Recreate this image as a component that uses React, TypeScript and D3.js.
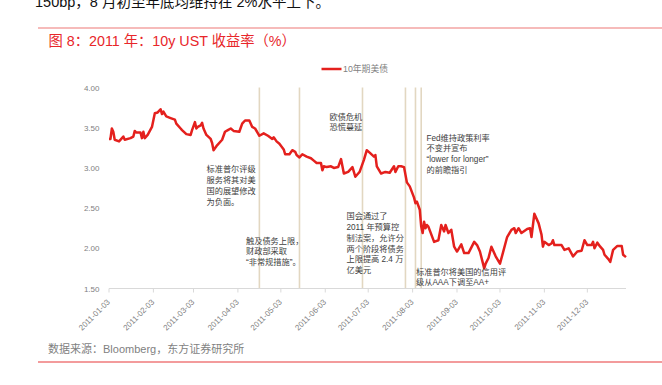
import React from "react";
import * as d3 from "d3";

const dates: string[] = [
  "2011-01-03","2011-01-04","2011-01-05","2011-01-06","2011-01-07","2011-01-10","2011-01-13","2011-01-14","2011-01-18","2011-01-20",
  "2011-01-21","2011-01-22","2011-01-25","2011-01-26","2011-01-27","2011-01-28","2011-01-30","2011-02-02","2011-02-04","2011-02-06",
  "2011-02-08","2011-02-09","2011-02-10","2011-02-12","2011-02-15","2011-02-18","2011-02-19","2011-02-22","2011-02-23","2011-02-26",
  "2011-03-01","2011-03-02","2011-03-04","2011-03-05","2011-03-06","2011-03-08","2011-03-09","2011-03-10","2011-03-12","2011-03-15",
  "2011-03-16","2011-03-17","2011-03-19","2011-03-23","2011-03-25","2011-03-27","2011-03-29","2011-03-31","2011-04-04","2011-04-06",
  "2011-04-08","2011-04-11","2011-04-13","2011-04-15","2011-04-17","2011-04-18","2011-04-21","2011-04-24","2011-04-27","2011-04-28",
  "2011-04-30","2011-05-02","2011-05-05","2011-05-06","2011-05-09","2011-05-11","2011-05-13","2011-05-14","2011-05-16","2011-05-18",
  "2011-05-21","2011-05-24","2011-05-26","2011-05-28","2011-05-31","2011-06-01","2011-06-02","2011-06-04","2011-06-07","2011-06-09",
  "2011-06-12","2011-06-14","2011-06-15","2011-06-16","2011-06-19","2011-06-22","2011-06-24","2011-06-26","2011-06-27","2011-06-30",
  "2011-07-02","2011-07-04","2011-07-07","2011-07-08","2011-07-09","2011-07-12","2011-07-15","2011-07-18","2011-07-21","2011-07-22",
  "2011-07-24","2011-07-26","2011-07-28","2011-07-30","2011-08-01","2011-08-04","2011-08-05","2011-08-06","2011-08-08","2011-08-09",
  "2011-08-10","2011-08-11","2011-08-12","2011-08-13","2011-08-14","2011-08-18","2011-08-21","2011-08-23","2011-08-25","2011-08-26",
  "2011-08-28","2011-08-30","2011-09-01","2011-09-03","2011-09-06","2011-09-08","2011-09-11","2011-09-15","2011-09-17","2011-09-19",
  "2011-09-22","2011-09-23","2011-09-25","2011-09-27","2011-09-30","2011-10-03","2011-10-05","2011-10-08","2011-10-11","2011-10-13",
  "2011-10-14","2011-10-16","2011-10-18","2011-10-22","2011-10-24","2011-10-25","2011-10-27","2011-10-30","2011-11-01","2011-11-02",
  "2011-11-03","2011-11-06","2011-11-08","2011-11-09","2011-11-10","2011-11-15","2011-11-17","2011-11-20","2011-11-23","2011-11-26",
  "2011-11-29","2011-12-01","2011-12-03","2011-12-06","2011-12-07","2011-12-08","2011-12-10","2011-12-12","2011-12-14","2011-12-15",
  "2011-12-18","2011-12-19","2011-12-21","2011-12-24","2011-12-27","2011-12-28","2011-12-30"
];

const ust10y: number[] = [
  3.36,3.36,3.49,3.45,3.35,3.33,3.39,3.35,3.37,3.39,
  3.46,3.44,3.44,3.37,3.45,3.37,3.41,3.51,3.68,3.69,
  3.73,3.67,3.70,3.64,3.62,3.60,3.55,3.49,3.47,3.42,
  3.41,3.47,3.57,3.49,3.51,3.53,3.56,3.49,3.41,3.36,
  3.31,3.22,3.27,3.35,3.45,3.47,3.49,3.46,3.45,3.55,
  3.59,3.59,3.51,3.49,3.43,3.40,3.43,3.40,3.36,3.38,
  3.33,3.30,3.23,3.17,3.17,3.22,3.20,3.16,3.13,3.17,
  3.14,3.12,3.09,3.06,3.06,2.97,3.02,3.01,3.02,3.00,
  3.01,3.11,3.02,2.93,2.95,3.01,2.89,2.93,2.95,3.10,
  3.22,3.19,3.14,3.16,3.02,2.93,2.95,2.94,3.02,2.95,
  3.02,3.02,3.01,2.82,2.77,2.63,2.56,2.58,2.48,2.27,
  2.19,2.33,2.25,2.29,2.27,2.08,2.10,2.29,2.21,2.29,
  2.19,2.23,2.02,1.96,2.05,1.94,1.94,2.08,2.04,1.96,
  1.75,1.81,1.88,2.02,1.90,1.81,1.94,2.14,2.23,2.25,
  2.19,2.25,2.19,2.24,2.25,2.14,2.43,2.31,2.17,2.02,
  2.08,2.04,2.06,2.10,2.04,2.04,1.98,2.00,1.90,1.96,
  1.97,2.10,2.04,2.04,2.08,2.00,2.07,2.02,1.98,1.92,
  1.86,1.83,1.98,2.03,2.03,1.92,1.89
];

const yTicks: number[] = [1.5, 2.0, 2.5, 3.0, 3.5, 4.0];
const xTickDates: string[] = [
  "2011-01-03","2011-02-03","2011-03-03","2011-04-03","2011-05-03","2011-06-03",
  "2011-07-03","2011-08-03","2011-09-03","2011-10-03","2011-11-03","2011-12-03"
];
const eventDates: string[] = ["2011-04-18","2011-05-16","2011-06-29","2011-07-29","2011-08-05","2011-08-09"];

const seriesName = "10年期美债";
const titleText = "图 8：2011 年：10y UST 收益率（%）";
const topText = "150bp，8 月初至年底均维持在 2%水平上下。";
const sourceText = "数据来源：Bloomberg，东方证券研究所";

const notes: { x: number; y: number; lines: string[] }[] = [
  { x: 206.5, y: 169, lines: ["标准普尔评级", "服务将其对美", "国的展望修改", "为负面。"] },
  { x: 246, y: 240.5, lines: ["触及债务上限，", "财政部采取", "“非常规措施”。"] },
  { x: 329.5, y: 116.5, lines: ["欧债危机", "恐慌蔓延"] },
  { x: 346.5, y: 216, lines: ["国会通过了", "2011 年预算控", "制法案，允许分", "两个阶段将债务", "上限提高 2.4 万", "亿美元"] },
  { x: 416, y: 271.5, lines: ["标准普尔将美国的信用评", "级从AAA下调至AA+"] },
  { x: 426.5, y: 137.5, lines: ["Fed维持政策利率", "不变并宣布", "“lower for longer”", "的前瞻指引"] },
];

const FONT = "'Liberation Sans', 'Noto Sans CJK SC', sans-serif";

export default function App() {
  const parse = d3.timeParse("%Y-%m-%d");
  const data = dates.map((d, i) => ({ date: parse(d) as Date, v: ust10y[i] }));
  const x = d3.scaleTime()
    .domain([parse("2011-01-03") as Date, parse("2011-12-30") as Date])
    .range([109, 626]);
  const y = d3.scaleLinear().domain([1.5, 4.0]).range([288.5, 87.5]);
  const line = d3.line<{ date: Date; v: number }>()
    .x((d) => x(d.date))
    .y((d) => y(d.v))
    .curve(d3.curveLinear);
  const fmt = d3.format(".2f");

  return (
    <svg width={662} height={385} style={{ position: "absolute", left: 0, top: 0, background: "#fff" }}
      fontFamily={FONT}>
      <rect x={0} y={0} width={662} height={385} fill="#fff" />
      <text x={35} y={7} fontSize={14.5} fill="#111">{topText}</text>
      <line x1={38} x2={662} y1={28} y2={28} stroke="#f3a5a3" strokeWidth={1.5} />
      <text x={48.5} y={46} fontSize={14.3} fill="#e8262a">{titleText}</text>

      {/* legend */}
      <line x1={321.5} x2={341.5} y1={69} y2={69} stroke="#e4201d" strokeWidth={2.5} />
      <text x={343} y={72.2} fontSize={8.8} fill="#7f7f7f">{seriesName}</text>

      {/* y tick labels */}
      {yTicks.map((t) => (
        <text key={t} x={99.5} y={y(t) + 3} fontSize={8} fill="#7f7f7f" textAnchor="end">{fmt(t)}</text>
      ))}

      {/* event lines */}
      {eventDates.map((d) => (
        <line key={d} x1={x(parse(d) as Date)} x2={x(parse(d) as Date)} y1={y(4.0)} y2={y(1.5)}
          stroke="#e2d7c1" strokeWidth={1.6} />
      ))}

      {/* x axis */}
      <line x1={109} x2={626} y1={y(1.5)} y2={y(1.5)} stroke="#d9d9d9" strokeWidth={1} />
      {xTickDates.map((d) => {
        const xp = x(parse(d) as Date);
        return (
          <g key={d}>
            <line x1={xp} x2={xp} y1={y(1.5)} y2={y(1.5) + 4} stroke="#d9d9d9" strokeWidth={1} />
            <text transform={`translate(${xp + 1.5},${y(1.5) + 14}) rotate(-45)`} fontSize={8}
              fill="#808080" textAnchor="end">{d}</text>
          </g>
        );
      })}

      {/* series */}
      <path d={line(data) || ""} fill="none" stroke="#e4201d" strokeWidth={2.5} strokeLinejoin="round" />

      {/* annotations */}
      {notes.map((n, i) => (
        <g key={i}>
          {n.lines.map((l, j) => (
            <text key={j} x={n.x} y={n.y + j * 10.8 + 3.1} fontSize={8.2} fill="#404040">{l}</text>
          ))}
        </g>
      ))}

      <text x={48} y={353} fontSize={11} fill="#7f7f7f">{sourceText}</text>
      <line x1={38} x2={662} y1={362} y2={362} stroke="#e8393a" strokeWidth={1.2} />
    </svg>
  );
}
